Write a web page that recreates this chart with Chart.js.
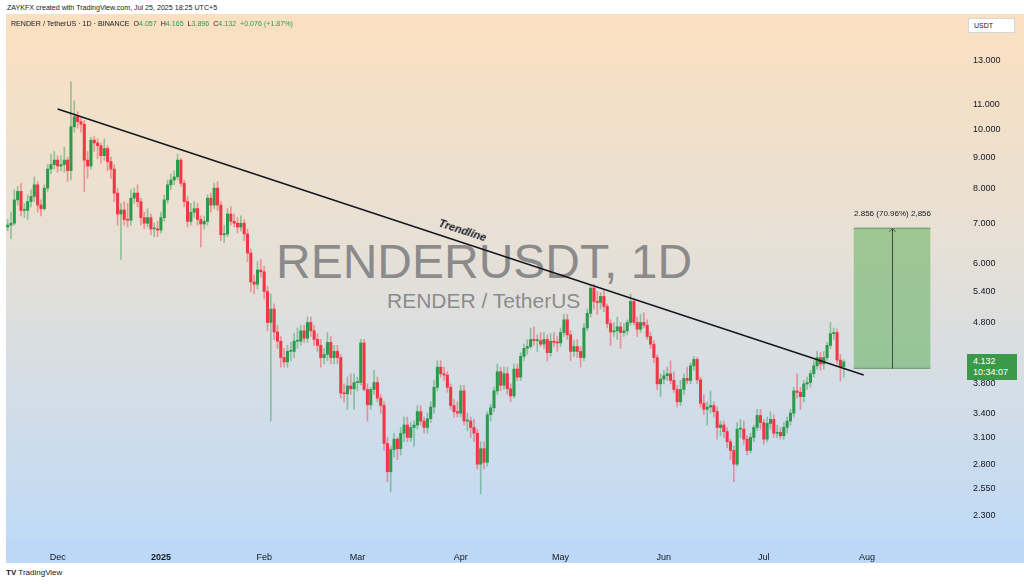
<!DOCTYPE html>
<html>
<head>
<meta charset="utf-8">
<script src="https://cdn.jsdelivr.net/npm/chart.js@4.4.1/dist/chart.umd.min.js"></script>
<style>
  body { margin: 0; width: 1024px; height: 584px; background: #fff; position: relative; overflow: hidden;
         font-family: "Liberation Sans", Arial, sans-serif; color: #131722; }
  .abs { position: absolute; white-space: nowrap; }
  #pane { left: 6px; top: 14px; width: 1018px; height: 526px;
          background: linear-gradient(to bottom, #fbe0c0 0%, #e6e0d6 45%, #c0daf6 100%); }
  #timeband { left: 6px; top: 540px; width: 1018px; height: 23px; background: #bcd8f6; }
  #wm1 { left: 276px; top: 234px; font-size: 48px; color: rgba(105,105,110,0.72); }
  #wm2 { left: 387px; top: 289px; font-size: 21px; color: rgba(105,105,110,0.72); }
  #wrap { left: 0; top: 14px; width: 1024px; height: 549px; }
  #hdr1 { left: 7px; top: 4px; font-size: 7.1px; }
  #hdr2 { left: 11px; top: 20px; font-size: 7.1px; }
  #hdr2 b { font-weight: normal; color: #22a05a; }
  #usdt { left: 968px; top: 18px; width: 47px; height: 15px; background: #fff; border: 1px solid #d6d6d6;
          box-sizing: border-box; font-size: 7px; line-height: 13px; padding-left: 5px; }
  #plabel { left: 967px; top: 354px; width: 50px; height: 26px; background: #3a9a48; color: #fff;
            font-size: 9px; line-height: 11px; padding: 2px 0 0 6px; box-sizing: border-box; }
  #tl { left: 438px; top: 224px; font-size: 11px; font-weight: bold; font-style: italic;
        transform: rotate(18deg); transform-origin: center; color: #131722; }
  #foot { left: 6px; top: 568px; font-size: 8px; }
</style>
</head>
<body>
<div id="pane" class="abs"></div>
<div id="timeband" class="abs"></div>
<div id="wm1" class="abs">RENDERUSDT, 1D</div>
<div id="wm2" class="abs">RENDER / TetherUS</div>
<div id="wrap" class="abs"><canvas id="c" width="1024" height="549"></canvas></div>
<div id="hdr1" class="abs">ZAYKFX created with TradingView.com, Jul 25, 2025 18:25 UTC+5</div>
<div id="hdr2" class="abs">RENDER / TetherUS · 1D · BINANCE&nbsp; O<b>4.057</b>&nbsp; H<b>4.165</b>&nbsp; L<b>3.896</b>&nbsp; C<b>4.132</b>&nbsp; <b>+0.076 (+1.87%)</b></div>
<div id="usdt" class="abs">USDT</div>
<div id="tl" class="abs">Trendline</div>
<div id="plabel" class="abs">4.132<br>10:34:07</div>
<div id="foot" class="abs"><b>TV</b> TradingView</div>
<script>
// daily candles, 2024-11-16 .. 2025-07-25
var firstDay = '2024-11-16';
var totalDays = 287; // axis runs on past the last candle to end of August

var open = [
  6.90, 6.95, 7.00, 7.65, 7.90, 7.35, 7.35, 7.60, 7.75, 8.10, 7.50, 7.40, 8.00, 8.60, 8.75, 8.90,
  8.70, 8.75, 8.90, 8.55, 10.10, 10.50, 10.30, 10.20, 8.90, 8.70, 9.60, 9.50, 9.40, 9.05, 9.30, 8.85,
  8.60, 7.85, 7.25, 7.36, 7.10, 7.08, 7.70, 7.85, 7.60, 7.15, 7.00, 7.15, 6.85, 6.85, 6.82, 7.15,
  7.65, 8.10, 8.25, 8.35, 8.90, 8.15, 7.60, 7.05, 7.30, 7.40, 7.10, 6.98, 7.05, 7.70, 7.50, 8.00,
  7.50, 6.70, 6.72, 7.25, 7.05, 7.00, 6.90, 7.00, 6.72, 6.25, 5.60, 5.55, 5.86, 5.82, 5.40, 4.80,
  5.05, 4.63, 4.47, 4.20, 4.13, 4.30, 4.30, 4.47, 4.47, 4.65, 4.52, 4.80, 4.65, 4.50, 4.40, 4.20,
  4.25, 4.45, 4.20, 4.30, 4.20, 3.67, 3.66, 3.77, 3.73, 3.82, 3.82, 4.44, 3.72, 3.51, 3.72, 3.82,
  3.60, 3.50, 3.03, 2.72, 2.96, 3.08, 2.97, 3.15, 3.25, 3.10, 3.22, 3.25, 3.42, 3.30, 3.22, 3.33,
  3.48, 3.75, 4.05, 3.95, 3.93, 3.75, 3.50, 3.42, 3.40, 3.70, 3.30, 3.30, 3.22, 3.15, 2.80, 2.97,
  2.82, 3.38, 3.47, 3.70, 3.98, 3.78, 3.95, 3.73, 3.63, 4.02, 3.90, 4.22, 4.35, 4.38, 4.50, 4.48,
  4.48, 4.42, 4.50, 4.28, 4.47, 4.45, 4.44, 4.62, 4.85, 4.58, 4.30, 4.38, 4.30, 4.20, 4.70, 4.97,
  5.47, 5.20, 5.18, 5.30, 5.10, 4.78, 4.63, 4.65, 4.72, 4.62, 4.65, 4.80, 5.20, 4.80, 4.68, 4.80,
  4.75, 4.55, 4.42, 4.20, 3.80, 3.87, 3.92, 3.95, 3.85, 3.72, 3.55, 3.72, 3.88, 3.85, 4.07, 4.17,
  3.86, 3.53, 3.45, 3.48, 3.50, 3.42, 3.22, 3.25, 3.17, 3.05, 2.95, 2.80, 3.20, 3.20, 3.08, 2.95,
  3.10, 3.22, 3.37, 3.28, 3.08, 3.27, 3.32, 3.15, 3.16, 3.12, 3.22, 3.30, 3.40, 3.70, 3.68, 3.62,
  3.80, 3.82, 3.95, 4.07, 4.20, 4.10, 4.20, 4.40, 4.60, 4.62, 4.16, 4.057
];
var high = [
  7.10, 7.30, 7.95, 8.05, 8.15, 7.55, 7.80, 7.95, 8.35, 8.20, 7.65, 8.10, 8.75, 9.10, 9.20, 9.05,
  9.05, 9.35, 9.00, 12.00, 11.15, 10.70, 10.45, 10.35, 9.20, 9.70, 9.75, 9.65, 9.50, 9.65, 9.40, 9.00,
  8.75, 8.00, 7.55, 7.60, 7.55, 7.95, 8.00, 8.10, 7.70, 7.30, 7.40, 7.25, 7.00, 7.05, 7.30, 7.80,
  8.25, 8.45, 8.55, 9.10, 8.95, 8.25, 7.75, 7.55, 7.60, 7.55, 7.20, 7.20, 7.80, 7.85, 8.15, 8.20,
  7.60, 6.95, 7.40, 7.45, 7.25, 7.15, 7.20, 7.10, 6.85, 6.35, 5.75, 6.05, 6.10, 5.95, 5.50, 5.35,
  5.15, 4.75, 4.55, 4.35, 4.40, 4.45, 4.60, 4.70, 4.75, 4.75, 4.90, 4.90, 4.75, 4.60, 4.50, 4.35,
  4.62, 4.55, 4.40, 4.40, 4.25, 3.80, 3.90, 3.95, 3.95, 3.90, 4.50, 4.50, 3.80, 3.75, 4.00, 3.90,
  3.65, 3.55, 3.10, 3.00, 3.15, 3.10, 3.22, 3.35, 3.35, 3.28, 3.30, 3.50, 3.50, 3.35, 3.40, 3.55,
  3.85, 4.15, 4.15, 4.05, 3.98, 3.80, 3.58, 3.55, 3.78, 3.78, 3.40, 3.35, 3.32, 3.20, 3.05, 3.05,
  3.42, 3.52, 3.75, 4.10, 4.05, 4.05, 4.05, 3.80, 4.10, 4.10, 4.28, 4.42, 4.50, 4.70, 4.72, 4.58,
  4.62, 4.62, 4.58, 4.60, 4.62, 4.55, 4.70, 4.95, 4.95, 4.65, 4.48, 4.50, 4.38, 4.78, 5.05, 5.52,
  5.55, 5.40, 5.38, 5.42, 5.15, 4.85, 4.80, 4.90, 4.80, 4.78, 4.85, 5.35, 5.25, 4.90, 4.95, 4.98,
  4.85, 4.62, 4.48, 4.25, 3.95, 4.00, 4.05, 4.15, 3.98, 3.78, 3.85, 3.95, 4.05, 4.12, 4.22, 4.20,
  3.90, 3.65, 3.55, 3.70, 3.55, 3.48, 3.30, 3.30, 3.22, 3.08, 3.00, 3.28, 3.32, 3.30, 3.12, 3.15,
  3.25, 3.45, 3.45, 3.32, 3.35, 3.42, 3.38, 3.25, 3.22, 3.28, 3.35, 3.45, 3.75, 3.95, 3.75, 3.85,
  3.90, 4.00, 4.15, 4.30, 4.28, 4.30, 4.45, 4.80, 4.70, 4.68, 4.25, 4.165
];
var low = [
  6.80, 6.60, 6.95, 7.50, 7.20, 7.15, 7.10, 7.45, 7.60, 7.30, 7.20, 7.35, 7.90, 8.45, 8.60, 8.50,
  8.55, 8.50, 8.20, 8.25, 9.90, 10.05, 9.90, 7.90, 8.30, 8.60, 9.20, 8.95, 8.80, 8.90, 8.55, 8.30,
  7.60, 6.95, 6.10, 6.95, 6.90, 6.95, 7.55, 7.45, 6.95, 6.85, 6.90, 6.70, 6.65, 6.65, 6.75, 7.05,
  7.55, 7.95, 8.10, 8.25, 8.05, 7.45, 6.90, 6.95, 7.15, 6.95, 6.40, 6.85, 6.95, 7.30, 7.40, 7.35,
  6.55, 6.50, 6.65, 6.95, 6.90, 6.75, 6.80, 6.55, 6.05, 5.40, 5.35, 5.45, 5.70, 5.25, 4.65, 3.30,
  4.50, 4.35, 4.05, 4.05, 4.05, 4.15, 4.20, 4.35, 4.40, 4.45, 4.45, 4.55, 4.40, 4.30, 4.05, 4.10,
  4.15, 4.10, 4.10, 4.10, 3.60, 3.55, 3.45, 3.65, 3.45, 3.70, 3.78, 3.70, 3.30, 3.45, 3.65, 3.55,
  3.40, 2.95, 2.62, 2.52, 2.88, 2.85, 2.90, 3.05, 3.05, 3.05, 3.00, 3.20, 3.25, 3.15, 3.15, 3.28,
  3.40, 3.70, 3.90, 3.85, 3.68, 3.45, 3.35, 3.35, 3.35, 3.25, 3.18, 3.10, 3.05, 2.75, 2.50, 2.75,
  2.78, 3.30, 3.42, 3.65, 3.70, 3.72, 3.65, 3.55, 3.60, 3.85, 3.85, 4.15, 4.25, 4.35, 4.40, 4.30,
  4.38, 4.35, 4.15, 4.22, 4.38, 4.30, 4.38, 4.55, 4.50, 4.15, 4.22, 4.20, 4.05, 4.15, 4.65, 4.90,
  5.05, 4.95, 5.05, 5.00, 4.70, 4.40, 4.55, 4.50, 4.35, 4.55, 4.58, 4.75, 4.75, 4.55, 4.62, 4.70,
  4.50, 4.35, 4.12, 3.72, 3.62, 3.80, 3.85, 3.80, 3.68, 3.48, 3.50, 3.65, 3.80, 3.80, 4.00, 3.80,
  3.48, 3.38, 3.25, 3.40, 3.35, 3.08, 3.12, 3.10, 2.98, 2.85, 2.62, 2.78, 3.10, 3.02, 2.90, 2.92,
  3.05, 3.18, 3.20, 3.02, 3.05, 3.20, 3.10, 3.10, 3.08, 3.08, 3.15, 3.25, 3.35, 3.60, 3.45, 3.55,
  3.72, 3.75, 3.90, 4.02, 4.00, 4.02, 4.15, 4.35, 4.50, 4.10, 3.84, 3.896
];
var close = [
  6.95, 7.00, 7.65, 7.90, 7.35, 7.35, 7.60, 7.75, 8.10, 7.50, 7.40, 8.00, 8.60, 8.75, 8.90, 8.70,
  8.75, 8.90, 8.55, 10.10, 10.50, 10.30, 10.20, 8.90, 8.70, 9.60, 9.50, 9.40, 9.05, 9.30, 8.85, 8.60,
  7.85, 7.25, 7.36, 7.10, 7.08, 7.70, 7.85, 7.60, 7.15, 7.00, 7.15, 6.85, 6.85, 6.82, 7.15, 7.65,
  8.10, 8.25, 8.35, 8.90, 8.15, 7.60, 7.05, 7.30, 7.40, 7.10, 6.98, 7.05, 7.70, 7.50, 8.00, 7.50,
  6.70, 6.72, 7.25, 7.05, 7.00, 6.90, 7.00, 6.72, 6.25, 5.60, 5.55, 5.86, 5.82, 5.40, 4.80, 5.05,
  4.63, 4.47, 4.20, 4.13, 4.30, 4.30, 4.47, 4.47, 4.65, 4.52, 4.80, 4.65, 4.50, 4.40, 4.20, 4.25,
  4.45, 4.20, 4.30, 4.20, 3.67, 3.66, 3.77, 3.73, 3.82, 3.82, 4.44, 3.72, 3.51, 3.72, 3.82, 3.60,
  3.50, 3.03, 2.72, 2.96, 3.08, 2.97, 3.15, 3.25, 3.10, 3.22, 3.25, 3.42, 3.30, 3.22, 3.33, 3.48,
  3.75, 4.05, 3.95, 3.93, 3.75, 3.50, 3.42, 3.40, 3.70, 3.30, 3.30, 3.22, 3.15, 2.80, 2.97, 2.82,
  3.38, 3.47, 3.70, 3.98, 3.78, 3.95, 3.73, 3.63, 4.02, 3.90, 4.22, 4.35, 4.38, 4.50, 4.48, 4.48,
  4.42, 4.50, 4.28, 4.47, 4.45, 4.44, 4.62, 4.85, 4.58, 4.30, 4.38, 4.30, 4.20, 4.70, 4.97, 5.47,
  5.20, 5.18, 5.30, 5.10, 4.78, 4.63, 4.65, 4.72, 4.62, 4.65, 4.80, 5.20, 4.80, 4.68, 4.80, 4.75,
  4.55, 4.42, 4.20, 3.80, 3.87, 3.92, 3.95, 3.85, 3.72, 3.55, 3.72, 3.88, 3.85, 4.07, 4.17, 3.86,
  3.53, 3.45, 3.48, 3.50, 3.42, 3.22, 3.25, 3.17, 3.05, 2.95, 2.80, 3.20, 3.20, 3.08, 2.95, 3.10,
  3.22, 3.37, 3.28, 3.08, 3.27, 3.32, 3.15, 3.16, 3.12, 3.22, 3.30, 3.40, 3.70, 3.68, 3.62, 3.80,
  3.82, 3.95, 4.07, 4.20, 4.10, 4.20, 4.40, 4.60, 4.62, 4.16, 4.057, 4.132
];

// price axis labels
var priceTicks = [13, 11, 10, 9, 8, 7, 6, 5.4, 4.8, 4.2, 3.8, 3.4, 3.1, 2.8, 2.55, 2.3];
var monthNames = ['Jan','Feb','Mar','Apr','May','Jun','Jul','Aug','Sep','Oct','Nov','Dec'];

// drawn trendline (two anchor points)
var trendDates = ['2024-12-01', '2025-07-31'];
var trendValues = [10.81, 3.93];

// measure tool: price range and date span
var measureRange = [4.025, 6.881];
var measureDates = ['2025-07-28', '2025-08-20'];
var measureText = '2.856 (70.96%) 2,856';

var upColor = '#2b9a4b', downColor = '#f23645';
var upWick = 'rgba(43,154,75,0.45)', downWick = 'rgba(242,54,69,0.45)';

var labels = [];
var d0 = new Date(firstDay + 'T00:00:00Z');
for (var i = 0; i < totalDays; i++) {
    labels.push(new Date(d0.getTime() + i * 86400000).toISOString().slice(0, 10));
}

var bodies = [], wicks = [], bodyColors = [], wickColors = [];
for (var i = 0; i < labels.length; i++) {
    if (i < close.length) {
        bodies.push([open[i], close[i]]);
        wicks.push([low[i], high[i]]);
        var up = close[i] >= open[i];
        bodyColors.push(up ? upColor : downColor);
        wickColors.push(up ? upWick : downWick);
    } else {
        bodies.push(null);
        wicks.push(null);
        bodyColors.push(upColor);
        wickColors.push(upWick);
    }
}

var measurePlugin = {
    id: 'measure',
    afterDatasetsDraw: function(chart) {
        var x = chart.scales.x, y = chart.scales.y, ctx = chart.ctx;
        var x1 = x.getPixelForValue(labels.indexOf(measureDates[0]));
        var x2 = x.getPixelForValue(labels.indexOf(measureDates[1]));
        var yTop = y.getPixelForValue(measureRange[1]);
        var yBot = y.getPixelForValue(measureRange[0]);
        ctx.save();
        ctx.fillStyle = 'rgba(80,170,75,0.48)';
        ctx.fillRect(x1, yTop, x2 - x1, yBot - yTop);
        ctx.strokeStyle = 'rgba(70,120,70,0.6)';
        ctx.lineWidth = 1;
        ctx.beginPath();
        ctx.moveTo(x1, yTop + 0.5); ctx.lineTo(x2, yTop + 0.5);
        ctx.moveTo(x1, yBot - 0.5); ctx.lineTo(x2, yBot - 0.5);
        ctx.stroke();
        var xm = Math.round((x1 + x2) / 2) + 0.5;
        ctx.strokeStyle = '#3d4a3d';
        ctx.beginPath();
        ctx.moveTo(xm, yBot); ctx.lineTo(xm, yTop + 1);
        ctx.moveTo(xm - 3, yTop + 4); ctx.lineTo(xm, yTop + 1); ctx.lineTo(xm + 3, yTop + 4);
        ctx.stroke();
        ctx.fillStyle = '#131722';
        ctx.font = '8px "Liberation Sans", Arial, sans-serif';
        ctx.textAlign = 'center';
        ctx.textBaseline = 'bottom';
        ctx.fillText(measureText, xm, yTop - 10);
        ctx.restore();
    }
};

var font = '"Liberation Sans", Arial, sans-serif';

new Chart(document.getElementById('c'), {
    type: 'bar',
    data: {
        labels: labels,
        datasets: [
            {
                type: 'line',
                data: trendDates.map(function(d, k) { return { x: d, y: trendValues[k] }; }),
                borderColor: '#131722',
                borderWidth: 1.5,
                pointRadius: 0,
                order: 0
            },
            {
                data: bodies,
                backgroundColor: bodyColors,
                barThickness: 2.4,
                minBarLength: 1,
                grouped: false,
                order: 1
            },
            {
                data: wicks,
                backgroundColor: wickColors,
                barThickness: 1,
                grouped: false,
                order: 2
            }
        ]
    },
    options: {
        responsive: false,
        animation: false,
        devicePixelRatio: 1,
        layout: { padding: { left: 6, right: 6, top: 0, bottom: 0 } },
        plugins: { legend: { display: false }, tooltip: { enabled: false } },
        scales: {
            x: {
                type: 'category',
                offset: true,
                grid: { display: false },
                border: { display: false },
                ticks: {
                    autoSkip: false,
                    maxRotation: 0,
                    minRotation: 0,
                    padding: 4,
                    color: '#131722',
                    font: function(c) {
                        return { family: font, size: 9, weight: (c.tick && c.tick.label === '2025') ? 'bold' : 'normal' };
                    },
                    callback: function(value) {
                        var d = this.getLabelForValue(value);
                        if (d.slice(8) !== '01') return '';
                        var m = +d.slice(5, 7);
                        return m === 1 ? d.slice(0, 4) : monthNames[m - 1];
                    }
                },
                afterFit: function(s) { s.height = 23; }
            },
            y: {
                type: 'logarithmic',
                position: 'right',
                min: 2.099,
                max: 15.51,
                grid: { display: false, drawTicks: false },
                border: { display: false },
                ticks: {
                    padding: 11,
                    color: '#131722',
                    font: { family: font, size: 9 },
                    callback: function(v) { return Number(v).toFixed(3); }
                },
                afterBuildTicks: function(s) {
                    s.ticks = priceTicks.map(function(v) { return { value: v }; });
                },
                afterFit: function(s) { s.width = 56; s.paddingTop = 0; s.paddingBottom = 0; }
            }
        }
    },
    plugins: [measurePlugin]
});
</script>
</body>
</html>
